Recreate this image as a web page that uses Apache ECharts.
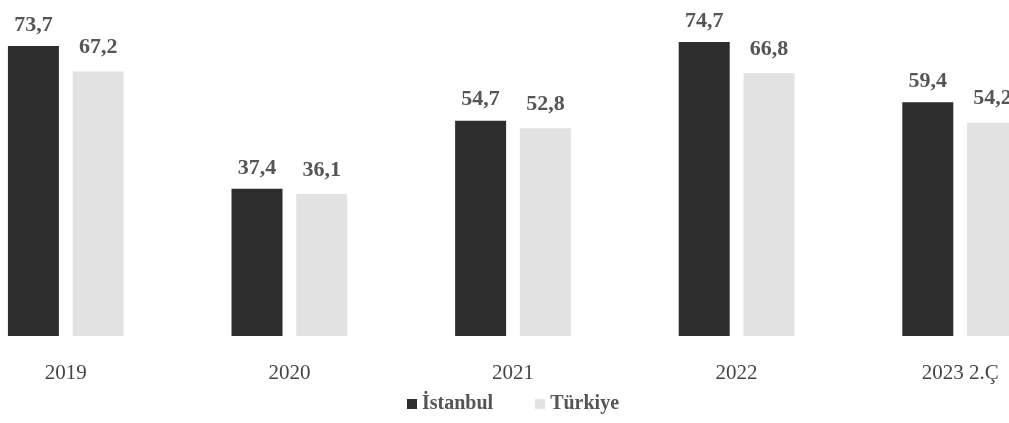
<!DOCTYPE html>
<html>
<head>
<meta charset="utf-8">
<script src="https://cdn.jsdelivr.net/npm/echarts@6/dist/echarts.min.js"></script>
<style>
  html, body { margin: 0; padding: 0; background: #ffffff; overflow: hidden; }
  #wrap { width: 1009px; height: 423px; overflow: hidden; position: relative; }
  /* the plot runs slightly past both page edges, as in the printed layout */
  #chart { width: 1118px; height: 423px; position: absolute; left: -46px; top: 0; }
</style>
</head>
<body>
<div id="wrap"><div id="chart"></div></div>
<script>
const categories = ['2019', '2020', '2021', '2022', '2023 2.Ç'];
const istanbul = [73.7, 37.4, 54.7, 74.7, 59.4];
const turkiye = [67.2, 36.1, 52.8, 66.8, 54.2];
const seriesNames = ['İstanbul', 'Türkiye'];

const serif = '"Liberation Serif", "DejaVu Serif", serif';
const commaLabel = p => p.value.toFixed(1).replace('.', ',');

const chart = echarts.init(document.getElementById('chart'));
chart.setOption({
  backgroundColor: '#ffffff',
  animation: false,
  grid: { left: 0, right: 0, top: 0, bottom: 87 },
  legend: {
    bottom: 4,
    left: 'center',
    itemWidth: 10,
    itemHeight: 10,
    itemGap: 42,
    icon: 'rect',
    textStyle: { fontFamily: serif, fontSize: 20, color: '#555', fontWeight: 'bold' },
    data: seriesNames
  },
  xAxis: {
    type: 'category',
    data: categories,
    axisLine: { show: false },
    axisTick: { show: false },
    axisLabel: { margin: 27, fontFamily: serif, fontSize: 21, color: '#444' }
  },
  yAxis: {
    type: 'value',
    min: 0,
    max: 85.4,
    show: false,
    splitLine: { show: false }
  },
  series: [
    {
      name: seriesNames[0],
      type: 'bar',
      data: istanbul,
      barWidth: 51,
      barGap: '27%',
      itemStyle: { color: '#2d2d2d' },
      label: {
        show: true, position: 'top', distance: 10,
        formatter: commaLabel,
        fontFamily: serif, fontSize: 22, fontWeight: 'bold', color: '#555'
      }
    },
    {
      name: seriesNames[1],
      type: 'bar',
      data: turkiye,
      barWidth: 51,
      itemStyle: { color: '#e2e2e2' },
      label: {
        show: true, position: 'top', distance: 13,
        formatter: commaLabel,
        fontFamily: serif, fontSize: 22, fontWeight: 'bold', color: '#555'
      }
    }
  ]
});
</script>
</body>
</html>
